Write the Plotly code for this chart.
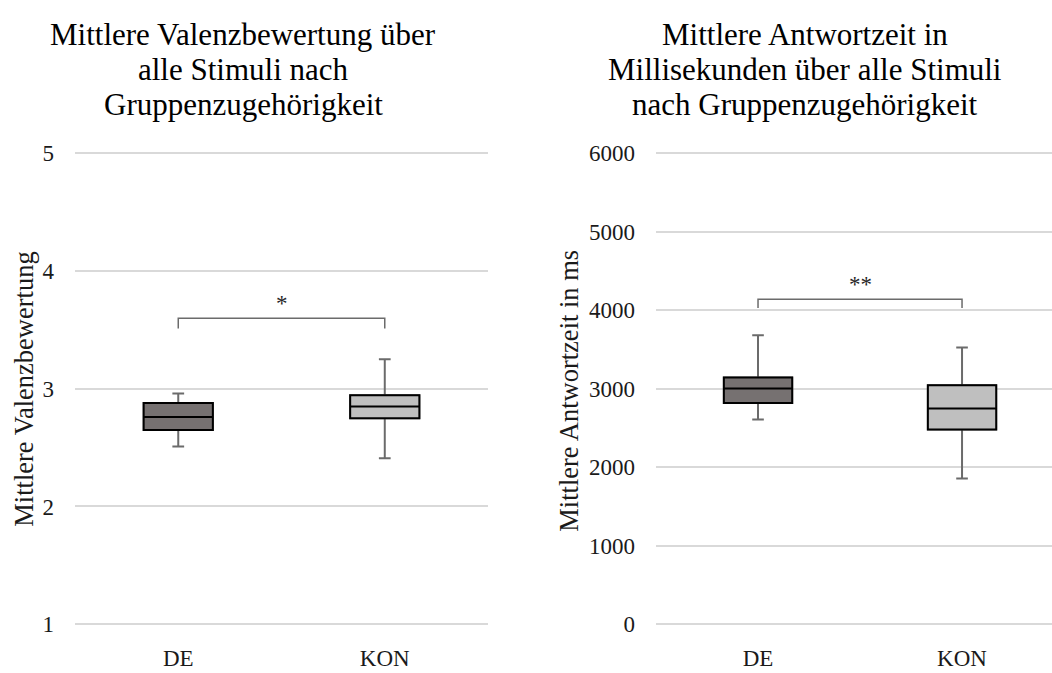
import plotly.graph_objects as go

# ---------------- data ----------------
categories = ["DE", "KON"]

# Left chart: mean valence rating
val_lower = [2.51, 2.41]
val_q1 = [2.65, 2.75]
val_median = [2.76, 2.85]
val_q3 = [2.88, 2.945]
val_upper = [2.96, 3.25]

# Right chart: mean response time (ms)
rt_lower = [2610, 1856]
rt_q1 = [2820, 2481]
rt_median = [3004, 2749]
rt_q3 = [3144, 3045]
rt_upper = [3683, 3527]

val_ticks = [1, 2, 3, 4, 5]
rt_ticks = [0, 1000, 2000, 3000, 4000, 5000, 6000]

# significance markers
sig_labels = ["*", "**"]
sig_levels = [3.60, 4140]
sig_drops = [0.087, 110]

left_title = ["Mittlere Valenzbewertung über", "alle Stimuli nach", "Gruppenzugehörigkeit"]
right_title = ["Mittlere Antwortzeit in", "Millisekunden über alle Stimuli", "nach Gruppenzugehörigkeit"]

fill_colors = ["#767171", "#bfbfbf"]
FONT = "Liberation Serif"

fig = go.Figure()

def add_boxes(xa, ya, lower, q1, med, q3, upper):
    for i, cat in enumerate(categories):
        # whiskers (gray)
        fig.add_trace(go.Box(
            x=[cat], q1=[q1[i]], median=[med[i]], q3=[q3[i]],
            lowerfence=[lower[i]], upperfence=[upper[i]],
            width=0.335, whiskerwidth=0.17,
            fillcolor=fill_colors[i], line=dict(color="#6b6b6b", width=2),
            xaxis=xa, yaxis=ya, showlegend=False, boxpoints=False,
            hoverinfo="skip"))
        # box body (black outline)
        fig.add_trace(go.Box(
            x=[cat], q1=[q1[i]], median=[med[i]], q3=[q3[i]],
            lowerfence=[q1[i]], upperfence=[q3[i]],
            width=0.335, whiskerwidth=0,
            fillcolor=fill_colors[i], line=dict(color="#000000", width=2),
            xaxis=xa, yaxis=ya, showlegend=False, boxpoints=False,
            hoverinfo="skip"))

add_boxes("x", "y", val_lower, val_q1, val_median, val_q3, val_upper)
add_boxes("x2", "y2", rt_lower, rt_q1, rt_median, rt_q3, rt_upper)

# significance brackets
for k, (xr, yr) in enumerate([("x", "y"), ("x2", "y2")]):
    lvl = sig_levels[k]
    d = sig_drops[k]
    fig.add_shape(type="path", xref=xr, yref=yr,
                  path=f"M 0,{lvl - d} L 0,{lvl} L 1,{lvl} L 1,{lvl - d}",
                  line=dict(color="#6b6b6b", width=1.5))
    fig.add_annotation(x=0.5, y=lvl, xref=xr, yref=yr, text=sig_labels[k],
                       showarrow=False, yanchor="bottom", yshift=0,
                       font=dict(family=FONT, size=23, color="#262626"))

ydom = [0.0544, 0.7837]
axis_font = dict(family=FONT, size=23, color="#1a1a1a")

fig.update_layout(
    width=1052, height=673,
    margin=dict(l=0, r=0, t=0, b=0),
    paper_bgcolor="white", plot_bgcolor="white",
    boxmode="overlay",
    xaxis=dict(domain=[0.0713, 0.4639], type="category", range=[-0.5, 1.5],
               categoryorder="array", categoryarray=categories,
               showgrid=False, showline=False, ticks="", tickfont=axis_font,
               ticklabelstandoff=15, fixedrange=True),
    yaxis=dict(domain=ydom, range=[0.98, 5.02], tickvals=val_ticks,
               showgrid=True, gridcolor="#d9d9d9", gridwidth=1.5,
               zeroline=False, showline=False, ticks="", tickfont=axis_font,
               ticklabelstandoff=20),
    xaxis2=dict(domain=[0.6236, 1.0], type="category", range=[-0.5, 1.441],
                categoryorder="array", categoryarray=categories,
                showgrid=False, showline=False, ticks="", tickfont=axis_font,
                ticklabelstandoff=15, anchor="y2"),
    yaxis2=dict(domain=ydom, range=[-30, 6030], tickvals=rt_ticks,
                showgrid=True, gridcolor="#d9d9d9", gridwidth=1.5,
                zeroline=False, showline=False, ticks="", tickfont=axis_font,
                ticklabelstandoff=20, anchor="x2"),
)

# titles (one annotation per line for tight line spacing)
line_centers = [25.5, 61.5, 98]
for lines, cx in [(left_title, 243), (right_title, 805)]:
    for txt, cy in zip(lines, line_centers):
        fig.add_annotation(x=cx / 1052, y=(673 - cy) / 673, xref="paper", yref="paper",
                           text=txt, showarrow=False, xanchor="center", yanchor="middle",
                           font=dict(family=FONT, size=31, color="#000000"))

# axis titles
fig.add_annotation(x=24 / 1052, y=(673 - 392) / 673, xref="paper", yref="paper",
                   text="Mittlere Valenzbewertung", textangle=-90, showarrow=False,
                   xanchor="center", yanchor="middle",
                   font=dict(family=FONT, size=26.5, color="#1a1a1a"))
fig.add_annotation(x=569 / 1052, y=(673 - 393) / 673, xref="paper", yref="paper",
                   text="Mittlere Antwortzeit in ms", textangle=-90, showarrow=False,
                   xanchor="center", yanchor="middle",
                   font=dict(family=FONT, size=26.5, color="#1a1a1a"))

fig.write_html("out.html")
